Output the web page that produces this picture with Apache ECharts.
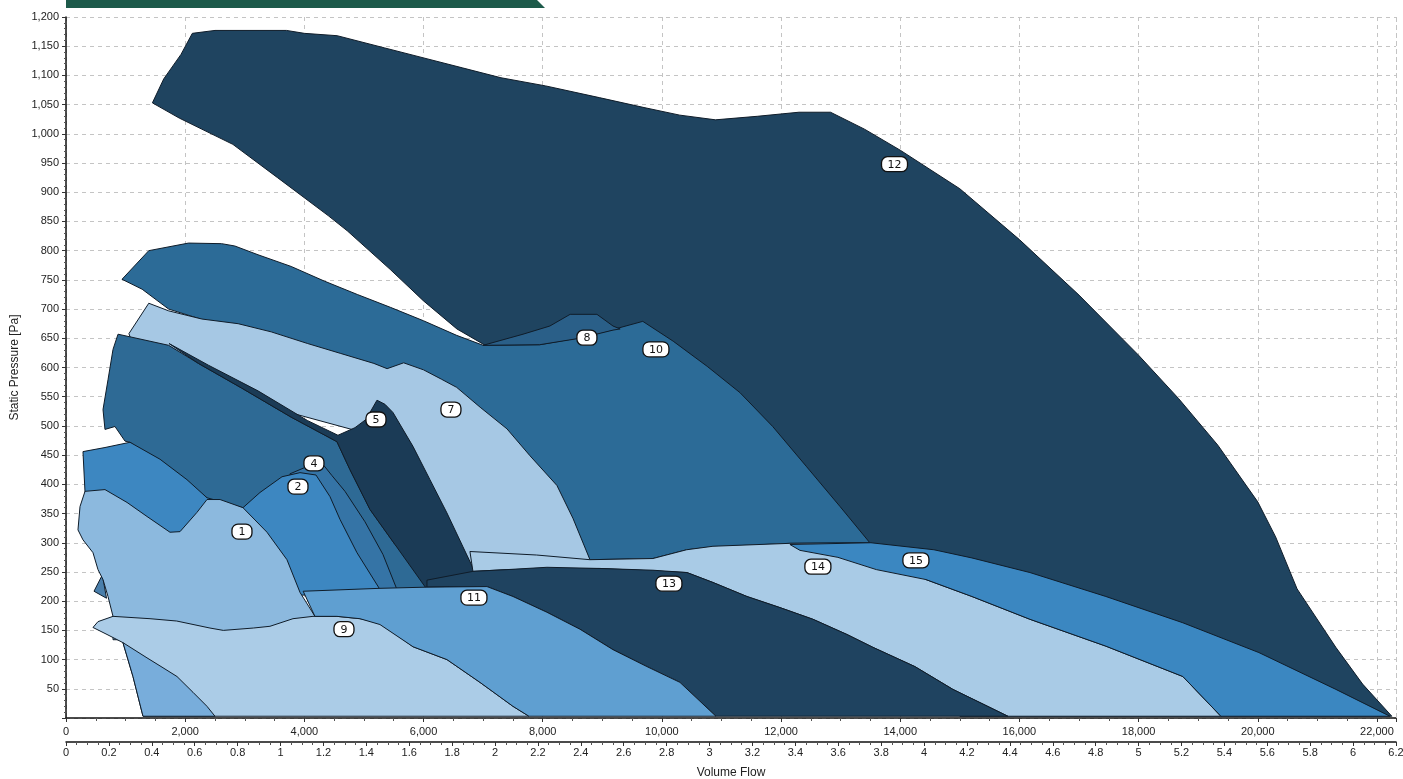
<!DOCTYPE html>
<html>
<head>
<meta charset="utf-8">
<script src="https://cdn.jsdelivr.net/npm/echarts/dist/echarts.min.js"></script>
<style>
html,body{margin:0;padding:0;background:#fff;}
#chart{width:1403px;height:779px;}
</style>
</head>
<body>
<div id="chart"></div>
<script>
// ---------- axis ranges / ticks ----------
const FLOW_MAX = 22320;          // m3/h  (= 6.2 m3/s)
const FLOW_TICK = 2000;
const FLOW_M3S_MAX = 6.2;
const FLOW_M3S_TICK = 0.2;
const PRESS_MAX = 1200;
const PRESS_TICK = 50;

// ---------- region outlines: [volume flow m3/h, static pressure Pa] ----------
const region12 = [[1450,1053],[1640,1094],[1930,1136],[2120,1172],[2500,1177],[3700,1177],[4000,1172],[4550,1168],[5350,1147],[6000,1130],[6650,1113],[7300,1096],[8050,1082],[8950,1062],[9700,1045],[10300,1032],[10900,1024],[11600,1030],[12300,1037],[12830,1037],[13400,1008],[14000,972],[15000,906],[16000,819],[17000,724],[18000,621],[18670,547],[19330,467],[20000,370],[20300,310],[20660,221],[21310,121],[21760,58],[22250,3],[15000,3],[12900,296],[7000,640],[6560,666],[6000,714],[5440,768],[4720,834],[4400,860],[3550,925],[2800,982],[1900,1027]];
const region10 = [[940,751],[1389,800],[2056,813],[2611,812],[2833,808],[3222,793],[3778,773],[4333,748],[4889,725],[5444,703],[6000,680],[6556,655],[7000,638],[7950,639],[8620,651],[9180,665],[9680,679],[10190,645],[10760,602],[11310,557],[11860,499],[12430,430],[12990,362],[13490,300],[12150,299],[10860,293],[10420,288],[9850,273],[8790,271],[6440,460],[3930,630],[1722,700],[1278,734]];
const region8 = [[7000,638],[7670,657],[8120,671],[8460,691],[8910,691],[9180,671],[9300,666],[9180,664],[8620,650],[7950,639]];
const region7 = [[1389,710],[1722,697],[2278,683],[2889,675],[3444,661],[4056,641],[4611,624],[5167,607],[5389,598],[5667,608],[6000,596],[6300,580],[6556,566],[6950,532],[7400,495],[7786,449],[8239,398],[8507,342],[8793,271],[8793,262],[6700,262],[5300,480],[3500,530],[1900,620],[1100,645],[1056,658]];
const region6 = [[873,657],[1722,638],[2222,607],[2944,565],[3778,515],[4547,473],[4766,425],[5101,357],[5521,297],[6058,237],[6058,217],[3927,213],[3088,271],[2366,377],[1074,472],[990,474],[822,499],[654,494],[621,528],[705,579],[789,631]];
const region5 = [[1730,641],[2389,604],[3222,560],[4056,509],[4564,484],[4850,497],[5034,511],[5219,544],[5353,537],[5487,523],[5823,465],[6108,408],[6393,351],[6662,293],[6880,246],[6880,220],[6058,220],[5521,297],[5101,357],[4766,425],[4547,473],[3778,515],[2944,565],[2222,607]];
const region4 = [[3759,418],[4128,434],[4329,432],[4463,415],[4682,388],[5017,336],[5319,280],[5554,220],[3927,217]];
const region2 = [[285,456],[654,463],[1074,472],[1577,443],[2030,408],[2366,377],[2970,360],[3255,386],[3625,413],[3927,420],[4195,416],[4430,379],[4598,340],[4883,283],[5269,220],[3927,210],[2249,271],[403,374],[319,387]];
const regionSpike = [[470,217],[610,245],[680,205]];
const region1 = [[319,388],[654,391],[1024,369],[1359,345],[1745,318],[1913,319],[2198,352],[2366,374],[2584,374],[2970,360],[3373,318],[3708,271],[3927,215],[4178,174],[3927,134],[789,134],[789,174],[705,208],[621,237],[537,254],[453,283],[285,305],[201,322],[235,362]];
const region9 = [[453,155],[537,165],[789,174],[1410,170],[1858,166],[2416,154],[2640,150],[3143,154],[3423,157],[3809,170],[4145,174],[4547,174],[4933,170],[5269,163],[5823,122],[6393,100],[6947,61],[7501,20],[7769,3],[1292,3],[1124,71],[956,129],[688,143]];
const region16 = [[956,129],[1359,103],[1628,86],[1863,71],[2131,44],[2366,20],[2500,3],[1292,3],[1124,71]];
const region14 = [[6779,285],[7898,279],[8793,271],[9850,273],[10415,288],[10857,294],[12149,299],[13508,300],[14431,237],[15203,208],[16176,169],[17451,123],[18743,71],[19381,3],[15807,3],[14884,49],[14246,88],[13541,121],[13105,143],[12535,169],[11981,189],[11427,208],[10857,232],[10420,249],[8961,256],[7400,254],[6829,251]];
const region15 = [[12149,297],[13508,300],[14565,288],[15203,274],[16176,249],[17451,208],[18743,163],[20019,112],[21311,49],[22217,3],[19381,3],[18743,71],[17451,123],[16176,169],[15203,208],[14431,237],[13600,254],[12954,275],[12317,287]];
const region13 = [[6058,236],[6829,251],[7400,254],[8071,258],[8961,256],[9850,253],[10420,249],[10857,232],[11427,208],[11981,189],[12535,169],[13105,143],[13541,121],[14246,88],[14884,49],[15807,3],[10907,3],[10303,61],[9749,88],[9179,117],[8625,152],[8071,181],[7501,208],[7064,225],[6058,224]];
const region11 = [[3980,217],[5269,222],[6058,224],[7064,225],[7501,208],[8071,181],[8625,152],[9179,117],[9749,88],[10303,61],[10907,3],[7769,3],[7501,20],[6947,61],[6393,100],[5823,122],[5269,160],[4933,170],[4547,174],[4178,174]];

// ---------- region number tags ----------
const labelNames = ['1','2','4','5','7','8','9','10','11','12','13','14','15'];
const labelFlow  = [2953,3893,4161,5202,6460,8742,4665,9900,6846,13904,10118,12618,14263];
const labelPress = [319,396,436,511,528,651,152,631,206,948,230,259,270];

// ---------- drawing order and styles ----------
const drawOrder = [
  ['12', region12], ['10', region10], ['8', region8], ['7', region7], ['6', region6],
  ['5', region5], ['4', region4], ['2', region2], ['spike', regionSpike], ['1', region1],
  ['9', region9], ['16', region16], ['14', region14], ['15', region15], ['13', region13], ['11', region11]
];
const regionColors = {
  '12':'#1f4460','10':'#2c6b97','8':'#2a5f88','7':'#a6c8e4','6':'#2e6a95','5':'#1b3b56',
  '4':'#3574a6','2':'#3d87c1','spike':'#4a7fab','1':'#8cb9de','9':'#abcce7','16':'#78addb',
  '14':'#a9cbe6','15':'#3b87c1','13':'#1f4360','11':'#5f9fd1'
};
const FONT = '"Liberation Sans", Arial, sans-serif';

const chart = echarts.init(document.getElementById('chart'), null, {renderer:'canvas'});

const regionSeries = drawOrder.map(([key, pts], idx) => ({
  type: 'custom',
  name: 'region ' + key,
  xAxisIndex: 0, yAxisIndex: 0,
  silent: true,
  z: 2,
  data: pts,
  renderItem: function (params, api) {
    if (params.dataIndex !== 0) return null;
    return {
      type: 'polygon',
      shape: { points: pts.map(p => api.coord(p)) },
      style: { fill: regionColors[key], stroke: '#0f1c29', lineWidth: 1 }
    };
  },
  markLine: idx === 0 ? {
    silent: true, symbol: 'none', label: {show:false},
    lineStyle: {color:'#c4c4c4', type:[4,4], width:1},
    data: [{ xAxis: FLOW_MAX }]
  } : undefined
}));

const tagSeries = {
  type: 'custom',
  name: 'tags',
  xAxisIndex: 0, yAxisIndex: 0,
  silent: true,
  z: 10,
  data: labelFlow.map((f, i) => [f, labelPress[i]]),
  renderItem: function (params, api) {
    const c = api.coord([api.value(0), api.value(1)]);
    const t = labelNames[params.dataIndex];
    const w = t.length > 1 ? 26 : 20, h = 15;
    return {
      type: 'group',
      children: [
        { type:'rect', shape:{x:c[0]-w/2, y:c[1]-h/2, width:w, height:h, r:6},
          style:{fill:'#ffffff', stroke:'#111', lineWidth:1.3} },
        { type:'text', style:{x:c[0], y:c[1]+0.5, text:t, align:'center', verticalAlign:'middle',
          fontSize:11, fontFamily:'"DejaVu Sans", sans-serif', fill:'#111'} }
      ]
    };
  }
};

const option = {
  animation: false,
  backgroundColor: '#ffffff',
  grid: { left: 66, right: 7, top: 17, bottom: 61, containLabel: false, outerBoundsMode: 'none' },
  graphic: [{
    type: 'polygon', silent: true, z: 100,
    shape: { points: [[66,0],[537,0],[545,8],[66,8]] },
    style: { fill: '#1d5a4a' }
  }],
  xAxis: [
    {
      type: 'value', min: 0, max: FLOW_MAX, interval: FLOW_TICK, position: 'bottom',
      axisLine: { show: true, onZero: false, lineStyle: { color: '#111', width: 1.5 } },
      axisTick: { show: true, length: 4, lineStyle: { color: '#333' } },
      minorTick: { show: true, splitNumber: 4, length: 3, lineStyle: { color: '#555' } },
      axisLabel: { margin: 8, fontSize: 11, fontFamily: FONT, color: '#222', showMaxLabel: false,
        formatter: v => v.toLocaleString('en-US') },
      splitLine: { show: true, lineStyle: { color: '#c4c4c4', type: [4,4], width: 1 } }
    },
    {
      type: 'value', min: 0, max: FLOW_M3S_MAX, interval: FLOW_M3S_TICK, position: 'bottom', offset: 24,
      name: 'Volume Flow', nameLocation: 'middle', nameGap: 25,
      nameTextStyle: { fontSize: 12, fontFamily: FONT, color: '#222' },
      axisLine: { show: true, onZero: false, lineStyle: { color: '#111', width: 1.5 } },
      axisTick: { show: true, length: 4, lineStyle: { color: '#333' } },
      minorTick: { show: true, splitNumber: 4, length: 3, lineStyle: { color: '#555' } },
      axisLabel: { margin: 5, fontSize: 11, fontFamily: FONT, color: '#222',
        formatter: v => String(Math.round(v * 10) / 10) },
      splitLine: { show: false }
    }
  ],
  yAxis: {
    type: 'value', min: 0, max: PRESS_MAX, interval: PRESS_TICK,
    name: 'Static Pressure [Pa]', nameLocation: 'middle', nameGap: 37, nameRotate: 90,
    nameTextStyle: { fontSize: 12, fontFamily: FONT, color: '#222' },
    axisLine: { show: true, lineStyle: { color: '#111', width: 1.5 } },
    axisTick: { show: true, length: 4, lineStyle: { color: '#333' } },
    minorTick: { show: true, splitNumber: 5, length: 2, lineStyle: { color: '#555' } },
    axisLabel: { margin: 7, fontSize: 11, fontFamily: FONT, color: '#222',
      formatter: v => v === 0 ? '' : v.toLocaleString('en-US') },
    splitLine: { show: true, lineStyle: { color: '#c4c4c4', type: [4,4], width: 1 } }
  },
  series: regionSeries.concat([tagSeries])
};
chart.setOption(option);
</script>
</body>
</html>
